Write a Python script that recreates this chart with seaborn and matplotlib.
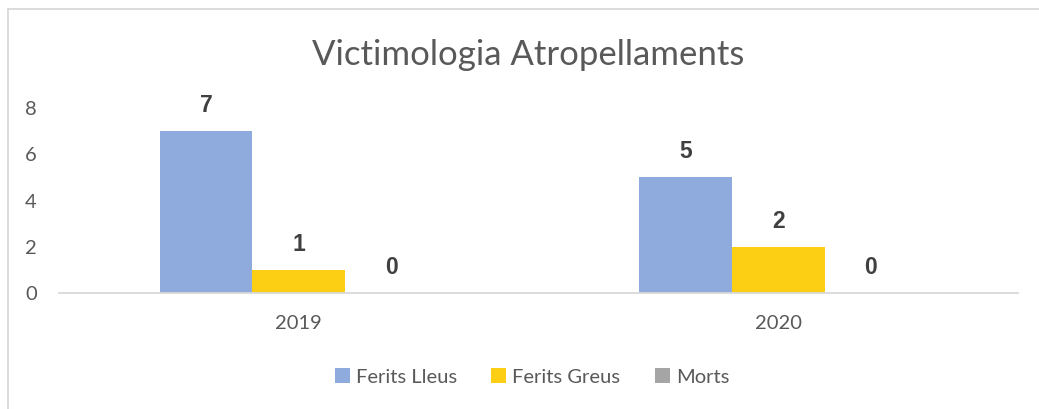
import pandas as pd
import matplotlib.pyplot as plt
import seaborn as sns
from matplotlib.patches import Patch
from matplotlib.lines import Line2D

# dades del gràfic
anys = ["2019", "2020"]
categories = ["Ferits Lleus", "Ferits Greus", "Morts"]
ferits_lleus = [7, 5]
ferits_greus = [1, 2]
morts = [0, 0]
colors = ["#8FAADC", "#FCCF14", "#A5A5A5"]

df = pd.DataFrame({
    "Any": anys * 3,
    "Categoria": [c for c in categories for _ in anys],
    "Valor": ferits_lleus + ferits_greus + morts,
})

sns.set_style("white")
plt.rcParams["font.family"] = ["Lato", "DejaVu Sans"]

fig = plt.figure(figsize=(10.39, 4.09), dpi=100)
ax = fig.add_axes([59 / 1039, 1 - 293 / 409, (1018 - 59) / 1039, (293 - 108) / 409])

sns.barplot(data=df, x="Any", y="Valor", hue="Categoria", hue_order=categories,
            palette=colors, width=0.579, saturation=1, linewidth=0, ax=ax, legend=False)

ax.set_xlim(-0.5, 1.5)
ax.set_ylim(0, 8)
ax.set_yticks([0, 2, 4, 6, 8])
ax.set_xlabel("")
ax.set_ylabel("")
for s in ["top", "right", "left"]:
    ax.spines[s].set_visible(False)
ax.spines["bottom"].set_color("#D9D9D9")
ax.spines["bottom"].set_linewidth(1.3)
ax.tick_params(axis="both", length=0, labelsize=14.5, colors="#595959")
ax.tick_params(axis="x", pad=16)
ax.tick_params(axis="y", pad=16)

for cont in ax.containers:
    ax.bar_label(cont, fmt="%d", padding=10, fontsize=16.5, fontweight="bold",
                 color="#404040", family="Liberation Sans")

fig.text(528 / 1039, 1 - 55 / 409, "Victimologia Atropellaments", ha="center", va="center",
         fontsize=25, color="#595959")

handles = [Patch(facecolor=c, edgecolor="none") for c in colors]
fig.legend(handles, categories, loc="center", bbox_to_anchor=(532 / 1039, 1 - 377 / 409),
           ncol=3, frameon=False, fontsize=14.5, labelcolor="#595959",
           handlelength=0.75, handleheight=0.75, handletextpad=0.3, columnspacing=1.7)

# vora del gràfic
fig.add_artist(Line2D([7.5 / 1039, 7.5 / 1039], [0, 1 - 9 / 409], transform=fig.transFigure,
                      color="#D9D9D9", lw=1.3))
fig.add_artist(Line2D([7.5 / 1039, 1], [1 - 9 / 409, 1 - 9 / 409], transform=fig.transFigure,
                      color="#D9D9D9", lw=1.3))

fig.savefig("out.png", dpi=100)
